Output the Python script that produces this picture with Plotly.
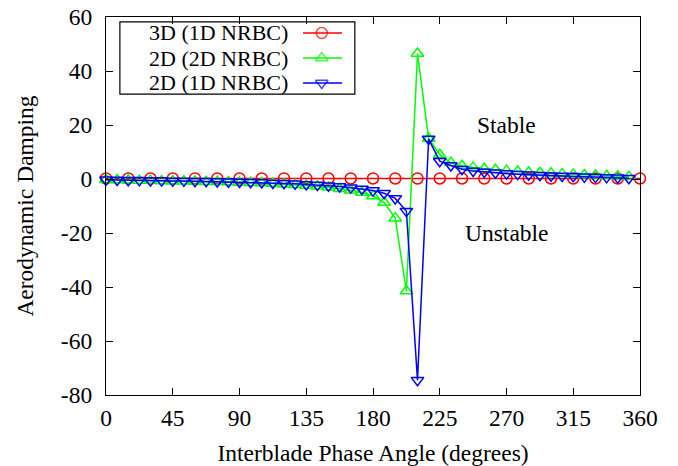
import plotly.graph_objects as go

# ---------------- data ----------------
ang_3d = [0, 15, 30, 45, 60, 75, 90, 105, 120, 135, 150, 165, 180,
          195, 210, 225, 240, 255, 270, 285, 300, 315, 330, 345, 360]
damp_3d = [0.2] * 25

ang_2d = [i * 7.5 for i in range(48)]
damp_2d_2d = [-0.3, -0.4, -0.5, -0.6, -0.6, -0.7, -0.8, -0.8, -0.9, -1.0,
              -1.0, -1.1, -1.3, -1.4, -1.5, -1.7, -1.9, -2.1, -2.4, -2.7,
              -3.1, -3.6, -4.2, -5.0, -6.3, -8.7, -14.5, -41.5, 46.5, 15.0,
              9.0, 6.0, 4.9, 4.3, 3.8, 3.4, 3.1, 2.8, 2.5, 2.3,
              2.1, 1.9, 1.7, 1.5, 1.4, 1.2, 1.0, 0.8]
damp_2d_1d = [-0.3, -0.4, -0.5, -0.5, -0.6, -0.6, -0.7, -0.7, -0.8, -0.8,
              -0.9, -1.0, -1.1, -1.2, -1.3, -1.5, -1.6, -1.8, -2.0, -2.2,
              -2.5, -2.8, -3.2, -3.7, -4.3, -5.3, -7.2, -11.9, -74.5, 14.8,
              6.6, 5.0, 3.6, 3.0, 2.6, 2.3, 2.0, 1.8, 1.6, 1.4,
              1.2, 1.1, 1.0, 0.8, 0.7, 0.6, 0.5, 0.3]

series_names = ["3D (1D NRBC)", "2D (2D NRBC)", "2D (1D NRBC)"]
series_colors = ["#ff0000", "#00ff00", "#0000ff"]
series_symbols = ["circle-open", "triangle-up-open", "triangle-down-open"]

x_ticks = [0, 45, 90, 135, 180, 225, 270, 315, 360]
y_ticks = [60, 40, 20, 0, -20, -40, -60, -80]

FONT = "Liberation Serif, Times New Roman, serif"
FS = 23.5
LEG_FS = 22

fig = go.Figure()
xs = [ang_3d, ang_2d, ang_2d]
ys = [damp_3d, damp_2d_2d, damp_2d_1d]
for name, x, y, c, s in zip(series_names, xs, ys, series_colors, series_symbols):
    fig.add_trace(go.Scatter(
        x=x, y=y, name=name, mode="lines+markers",
        line=dict(color=c, width=1.5),
        marker=dict(symbol=s, size=11, color=c, line=dict(color=c, width=1.5)),
        cliponaxis=False, showlegend=False,
    ))

# custom gnuplot-style legend (text on left, sample on right)
row_y = [0.9577, 0.8915, 0.8254]
for name, c, s, ry in zip(series_names, series_colors, series_symbols, row_y):
    fig.add_trace(go.Scatter(
        x=[0.369, 0.404, 0.442], y=[ry, ry, ry], xaxis="x2", yaxis="y2",
        mode="lines+markers", line=dict(color=c, width=1.5),
        marker=dict(symbol=s, size=[0, 11, 0], color=c, line=dict(color=c, width=1.5)),
        showlegend=False, hoverinfo="skip", cliponaxis=False,
    ))
    fig.add_annotation(x=0.343, y=ry, xref="paper", yref="paper", text=name,
                       showarrow=False, xanchor="right", yanchor="middle",
                       borderpad=0,
                       font=dict(family=FONT, size=LEG_FS, color="black"))

fig.add_shape(type="rect", xref="paper", yref="paper",
              x0=0.026, x1=0.466, y0=0.796, y1=0.987,
              line=dict(color="black", width=1.2), fillcolor="white", layer="below")

fig.add_annotation(x=270, y=20, text="Stable", showarrow=False,
                   font=dict(family=FONT, size=FS, color="black"))
fig.add_annotation(x=270, y=-20, text="Unstable", showarrow=False,
                   font=dict(family=FONT, size=FS, color="black"))

axis_common = dict(showline=True, linecolor="black", linewidth=1.2, mirror="allticks",
                   ticks="inside", ticklen=7, tickcolor="black", tickwidth=1,
                   showgrid=False, zeroline=False, automargin=False,
                   tickfont=dict(family=FONT, size=FS, color="black"))

fig.update_layout(
    width=678, height=466,
    margin=dict(l=106, r=38, t=17, b=71),
    paper_bgcolor="white", plot_bgcolor="white",
    font=dict(family=FONT, size=FS, color="black"),
    xaxis=dict(range=[0, 360], tickvals=x_ticks, ticktext=[str(v) for v in x_ticks],
               ticklabelstandoff=2,
               title=dict(text="Interblade Phase Angle (degrees)", standoff=18,
                          font=dict(family=FONT, size=FS)),
               **axis_common),
    yaxis=dict(range=[-80, 60], tickvals=y_ticks, ticktext=[str(v) for v in y_ticks],
               ticklabelstandoff=8,
               title=dict(text="Aerodynamic Damping", standoff=20,
                          font=dict(family=FONT, size=FS)),
               **axis_common),
    xaxis2=dict(overlaying="x", range=[0, 1], visible=False),
    yaxis2=dict(overlaying="y", range=[0, 1], visible=False),
    showlegend=False,
)

fig.write_html("out.html")
